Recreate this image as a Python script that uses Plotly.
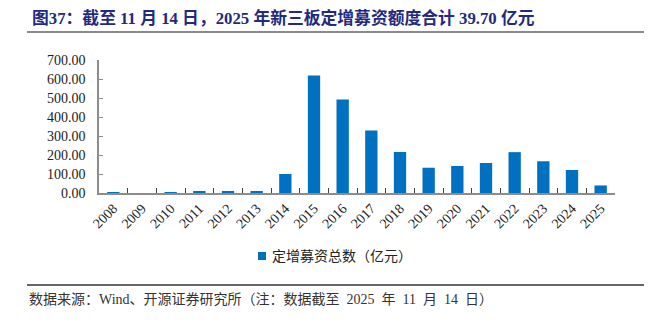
import plotly.graph_objects as go

# 新三板定增募资总额（亿元），2025 年数据截至 11 月 14 日
years = ["2008", "2009", "2010", "2011", "2012", "2013", "2014", "2015", "2016",
         "2017", "2018", "2019", "2020", "2021", "2022", "2023", "2024", "2025"]
amounts = [3.0, 0.0, 2.5, 6.5, 5.5, 8.5, 100.0, 618.0, 492.0,
           329.0, 216.0, 133.0, 142.0, 158.0, 215.0, 167.0, 121.0, 39.70]
y_ticks = [0, 100, 200, 300, 400, 500, 600, 700]

SP = "\u2002"  # half-width space between CJK text and numbers
series_name = "定增募资总数（亿元）"
title_text = "图37：截至 11 月 14 日，2025 年新三板定增募资额度合计 39.70 亿元"
source_text = f"数据来源：Wind、开源证券研究所（注：数据截至{SP}2025{SP}年{SP}11{SP}月{SP}14{SP}日）"

W, H = 662, 323
L, R, T, B = 99, 47, 60, 130
pw, ph = W - L - R, H - T - B


def px(x):
    return (x - L) / pw


def py(y):
    return (H - B - y) / ph


FONT = "Liberation Serif, Noto Sans CJK SC, serif"
AXIS = "#8c8c8c"
BLUE = "#0070C0"

fig = go.Figure(go.Bar(
    x=years, y=amounts, name=series_name,
    marker=dict(color=BLUE, line=dict(width=0)),
    showlegend=False,
))

fig.update_layout(
    width=W, height=H,
    margin=dict(l=L, r=R, t=T, b=B),
    paper_bgcolor="white", plot_bgcolor="white",
    font=dict(family=FONT, size=14, color="#222222"),
    bargap=0.57,
    xaxis=dict(type="category", tickangle=-45, showline=True, linecolor=AXIS,
               linewidth=1.5, ticks="inside", tickson="boundaries", ticklen=5,
               tickcolor="#444444", showgrid=False,
               tickfont=dict(family=FONT, size=14, color="#222222")),
    yaxis=dict(range=[0, 700], tickvals=y_ticks,
               ticktext=[f"{v:.2f}" for v in y_ticks],
               showline=True, linecolor=AXIS, linewidth=1.5, ticks="inside",
               ticklen=4, tickcolor=AXIS, showgrid=False, zeroline=False,
               ticklabelstandoff=9,
               tickfont=dict(family=FONT, size=14, color="#222222")),
)

# title and source note
fig.add_annotation(text=f"<b>{title_text}</b>", xref="paper", yref="paper",
                   x=px(30), y=py(18), xanchor="left", yanchor="middle",
                   showarrow=False,
                   font=dict(family=FONT, size=16.8, color="#1F2A80"))
fig.add_annotation(text=source_text, xref="paper", yref="paper",
                   x=px(27), y=py(299), xanchor="left", yanchor="middle",
                   showarrow=False,
                   font=dict(family=FONT, size=14, color="#333333"))

# legend: blue square + series name
fig.add_shape(type="rect", xref="paper", yref="paper",
              x0=px(258), x1=px(266), y0=py(260), y1=py(252),
              fillcolor=BLUE, line=dict(width=0))
fig.add_annotation(text=series_name, xref="paper", yref="paper",
                   x=px(270), y=py(256), xanchor="left", yanchor="middle",
                   showarrow=False,
                   font=dict(family=FONT, size=14, color="#222222"))

# rules under the title and above the source note
fig.add_shape(type="line", xref="paper", yref="paper",
              x0=px(27), x1=px(644), y0=py(32), y1=py(32),
              line=dict(color="#8a8a8a", width=2))
fig.add_shape(type="line", xref="paper", yref="paper",
              x0=px(27), x1=px(644), y0=py(285), y1=py(285),
              line=dict(color="#333333", width=1.5))

fig.write_html("out.html")
